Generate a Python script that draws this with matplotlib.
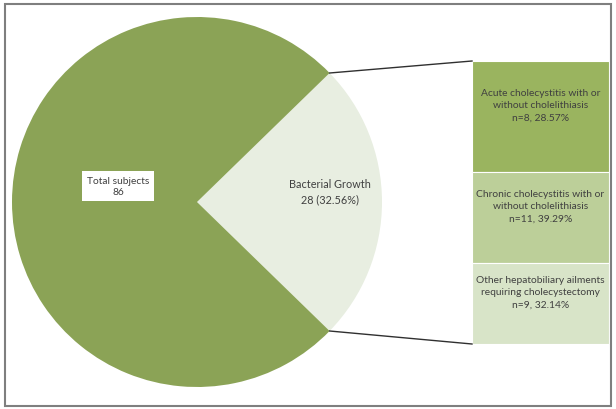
import matplotlib.pyplot as plt
from matplotlib.patches import Rectangle
import numpy as np

plt.rcParams['font.family'] = ['Lato', 'DejaVu Sans']

# data
pie_values = [28, 86]  # bacterial growth, total subjects (as drawn)
pie_labels = ['Bacterial Growth\n28 (32.56%)', 'Total subjects\n86']
pie_colors = ['#e8eee1', '#8ba356']

# bar of pie segments, top to bottom
bar_values = [11, 9, 8]
bar_labels = ['Acute cholecystitis with or\nwithout cholelithiasis\nn=8, 28.57%',
              'Chronic cholecystitis with or\nwithout cholelithiasis\nn=11, 39.29%',
              'Other hepatobiliary ailments\nrequiring cholecystectomy\nn=9, 32.14%']
bar_colors = ['#9ab45f', '#bccf99', '#d8e4c8']

W, H = 616, 410
fig = plt.figure(figsize=(W / 100, H / 100), dpi=100)
ax = fig.add_axes([0, 0, 1, 1])

# pie
cx, cy, r = 197, 207, 185
span = pie_values[0] / sum(pie_values) * 360
wedges, _ = ax.pie(pie_values, colors=pie_colors, startangle=-span / 2,
                   center=(cx, cy), radius=r, counterclock=True, frame=True)
ax.set_xlim(0, W)
ax.set_ylim(0, H)
ax.set_aspect('equal')
ax.axis('off')

ax.text(330, 218, pie_labels[0], ha='center', va='center',
        fontsize=7.8, color='#404040', linespacing=1.55)
ax.text(118, 223, pie_labels[1], ha='center', va='center', fontsize=7.4,
        color='#404040', linespacing=1.35,
        bbox=dict(boxstyle='square,pad=0.5', fc='white', ec='none'))

# stacked bar
bx0, bx1 = 472, 609
btop, bbot = H - 62, H - 345
scale = (btop - bbot) / sum(bar_values)
top = btop
for val, lab, col in zip(bar_values, bar_labels, bar_colors):
    h = val * scale
    ax.bar((bx0 + bx1) / 2, h, width=bx1 - bx0, bottom=top - h, color=col,
           edgecolor='white', linewidth=0.8)
    ax.text((bx0 + bx1) / 2, top - h / 2 + 12, lab, ha='center', va='center',
            fontsize=7.4, color='#404040', linespacing=1.5)
    top -= h

# connector lines
a = np.radians(span / 2)
ex, ey = cx + r * np.cos(a), r * np.sin(a)
ax.plot([ex, bx0], [cy + ey, btop], color='#303030', lw=1)
ax.plot([ex, bx0], [cy - ey, bbot], color='#303030', lw=1)

# chart frame
ax.add_patch(Rectangle((5, 3), 606, 402, fill=False, ec='#7f7f7f', lw=1.5))

fig.savefig('out.png', dpi=100)
